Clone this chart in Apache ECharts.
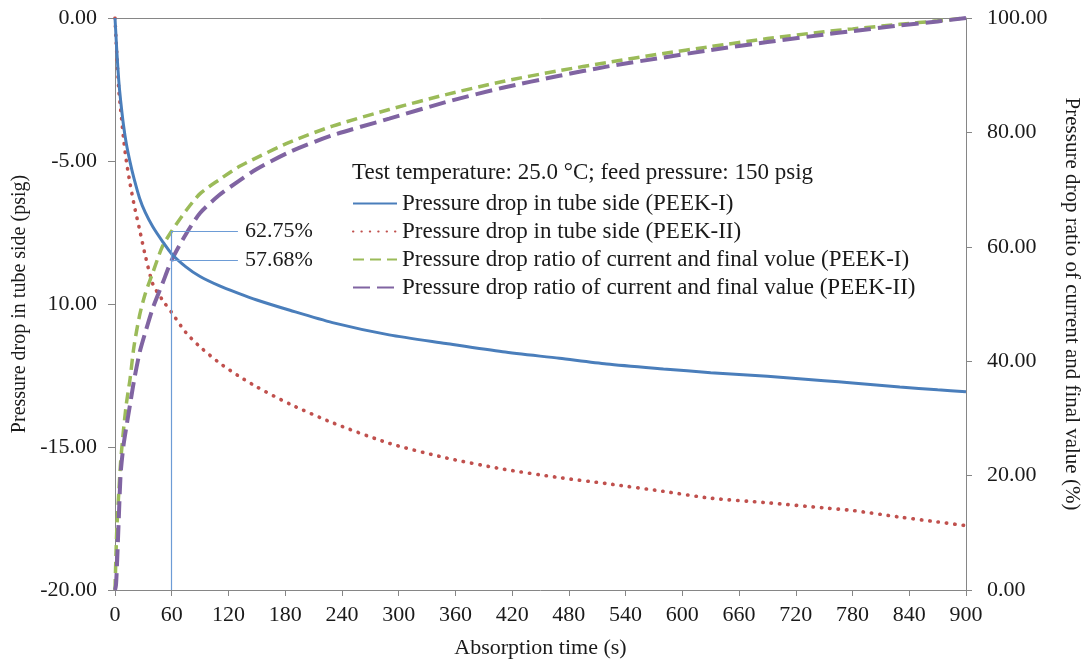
<!DOCTYPE html>
<html>
<head>
<meta charset="utf-8">
<script src="https://cdn.jsdelivr.net/npm/echarts@6/dist/echarts.min.js"></script>
<style>
  html, body { margin: 0; padding: 0; background: #fff; overflow: hidden; }
  #chart { width: 1081px; height: 661px; }
</style>
</head>
<body>
<div id="chart"></div>
<script>
// Sampling times (s)
const times = [0, 1, 2, 4, 6, 9, 12, 16, 20, 26, 32, 40, 50, 60, 75, 90, 110, 130, 150, 185,
  230, 290, 350, 410, 470, 520, 580, 630, 690, 750, 780, 830, 870, 900];

// Pressure drop in tube side (psig)
const dropPeek1 = [0, -0.6, -1.2, -2.2, -2.9, -3.75, -4.4, -5.05, -5.6, -6.3, -6.8, -7.3, -7.8, -8.25,
  -8.7, -9.04, -9.36, -9.62, -9.86, -10.22, -10.65, -11.08, -11.38, -11.67, -11.9, -12.1, -12.27,
  -12.4, -12.53, -12.68, -12.76, -12.9, -13.0, -13.07];
const dropPeek2 = [0, -0.7, -1.3, -2.5, -3.2, -4.2, -5.0, -5.8, -6.5, -7.4, -8.3, -9.3, -9.85, -10.3,
  -11.0, -11.5, -12.05, -12.5, -12.9, -13.5, -14.15, -14.87, -15.38, -15.77, -16.07, -16.28,
  -16.55, -16.79, -16.95, -17.13, -17.22, -17.45, -17.62, -17.75];

// Ratio of current to final pressure drop (%)
const ratioPeek1 = [0, 6, 11, 17, 22.5, 28, 32.5, 37, 42.5, 48, 51.8, 55.5, 60, 62.75, 66.3, 69.3,
  71.7, 73.9, 75.6, 78.3, 81.1, 84.0, 86.6, 88.9, 90.8, 92.2, 93.8, 95.0, 96.4, 97.6, 98.1, 98.9, 99.5, 100];
const ratioPeek2 = [0, 0.8, 4, 12.5, 20.4, 25.3, 28.5, 32.5, 36.5, 41.5, 45, 49.3, 53.5, 57.68, 62.2,
  65.9, 69.0, 71.4, 73.6, 76.6, 79.5, 82.4, 85.3, 87.8, 89.9, 91.5, 93.1, 94.4, 95.8, 97.1, 97.7,
  98.7, 99.4, 100];

// Marked ratios at 60 s
const markTime = 60;
const markLineEnd = 130;
const markRatios = [62.75, 57.68];

// Axis tick labels
const leftTickLabels = { '0': '0.00', '-5': '-5.00', '-10': '10.00', '-15': '-15.00', '-20': '-20.00' };

const seriesNames = [
  'Pressure drop in tube side (PEEK-I)',
  'Pressure drop in tube side (PEEK-II)',
  'Pressure drop ratio of current and final volue (PEEK-I)',
  'Pressure drop ratio of current and final value (PEEK-II)'
];

const FONT = "'Liberation Serif', 'Times New Roman', serif";
const AXIS_COLOR = '#868686';
const TEXT_COLOR = '#1a1a1a';
const TICK_SIZE = 22;
const LEGEND_SIZE = 23;

const pair = (vals) => times.map((t, i) => [t, vals[i]]);

const chart = echarts.init(document.getElementById('chart'), null, { renderer: 'canvas' });

const markData = [
  [{ coord: [markTime, 0] }, { coord: [markTime, markRatios[0]] }],
  ...markRatios.map(v => [
    { coord: [markTime, v] },
    { coord: [markLineEnd, v], label: { show: true, formatter: v.toFixed(2) + '%' } }
  ])
];

const SMOOTH = 0.25;

chart.setOption({
  animation: false,
  backgroundColor: '#fff',
  textStyle: { fontFamily: FONT, color: TEXT_COLOR },
  title: {
    text: 'Test temperature: 25.0 \u00B0C; feed pressure: 150 psig',
    left: 347, top: 156,
    textStyle: { fontFamily: FONT, fontSize: LEGEND_SIZE, fontWeight: 'normal', color: TEXT_COLOR }
  },
  legend: {
    orient: 'vertical',
    left: 347, top: 187,
    itemWidth: 44, itemHeight: 14, itemGap: 5,
    itemStyle: { opacity: 0 },
    textStyle: { fontFamily: FONT, fontSize: LEGEND_SIZE, color: TEXT_COLOR },
    data: seriesNames
  },
  grid: { left: 115, right: 115, top: 18, bottom: 71, containLabel: false, outerBoundsMode: 'none' },
  xAxis: [{
    type: 'value', min: 0, max: 900, interval: 60,
    position: 'bottom',
    name: 'Absorption time (s)', nameLocation: 'middle', nameGap: 47,
    nameTextStyle: { fontFamily: FONT, fontSize: 22, color: TEXT_COLOR },
    axisLine: { show: true, onZero: false, lineStyle: { color: AXIS_COLOR, width: 1 } },
    axisTick: { show: true, length: 6, lineStyle: { color: AXIS_COLOR } },
    axisLabel: { fontFamily: FONT, fontSize: TICK_SIZE, color: TEXT_COLOR, margin: 14 },
    splitLine: { show: false }
  }, {
    type: 'value', min: 0, max: 900, position: 'top',
    axisLine: { show: true, onZero: false, lineStyle: { color: AXIS_COLOR, width: 1 } },
    axisTick: { show: false }, axisLabel: { show: false }, splitLine: { show: false }
  }],
  yAxis: [{
    type: 'value', min: -20, max: 0, interval: 5, position: 'left',
    name: 'Pressure drop in tube side (psig)', nameLocation: 'middle', nameGap: 85, nameRotate: 90,
    nameTextStyle: { fontFamily: FONT, fontSize: 20, color: TEXT_COLOR },
    axisLine: { show: true, onZero: false, lineStyle: { color: AXIS_COLOR, width: 1 } },
    axisTick: { show: true, length: 7, lineStyle: { color: AXIS_COLOR } },
    axisLabel: {
      fontFamily: FONT, fontSize: TICK_SIZE, color: TEXT_COLOR, margin: 18,
      formatter: v => leftTickLabels[String(v)] ?? v.toFixed(2)
    },
    splitLine: { show: false }
  }, {
    type: 'value', min: 0, max: 100, interval: 20, position: 'right',
    name: 'Pressure drop ratio of current and final value (%)', nameLocation: 'middle',
    nameGap: 95, nameRotate: -90,
    nameTextStyle: { fontFamily: FONT, fontSize: 21, color: TEXT_COLOR },
    axisLine: { show: true, onZero: false, lineStyle: { color: AXIS_COLOR, width: 1 } },
    axisTick: { show: true, length: 6, lineStyle: { color: AXIS_COLOR } },
    axisLabel: { fontFamily: FONT, fontSize: TICK_SIZE, color: TEXT_COLOR, margin: 21, formatter: v => v.toFixed(2) },
    splitLine: { show: false }
  }],
  series: [{
    name: seriesNames[0], type: 'line', yAxisIndex: 0, data: pair(dropPeek1),
    symbol: 'none', smooth: SMOOTH, z: 4,
    itemStyle: { color: '#4a7ebb' },
    lineStyle: { color: '#4a7ebb', width: 3 }
  }, {
    name: seriesNames[1], type: 'line', yAxisIndex: 0, data: pair(dropPeek2),
    symbol: 'none', smooth: SMOOTH, z: 3,
    itemStyle: { color: '#c0504d' },
    lineStyle: { color: '#c0504d', width: 3.6, type: [0.4, 8], cap: 'round' }
  }, {
    name: seriesNames[2], type: 'line', yAxisIndex: 1, data: pair(ratioPeek1),
    symbol: 'none', smooth: SMOOTH, z: 3,
    itemStyle: { color: '#9bbb59' },
    lineStyle: { color: '#9bbb59', width: 3.5, type: [11, 6] },
    markLine: {
      silent: true, symbol: 'none', animation: false,
      lineStyle: { color: '#6d9cd6', width: 1.2, type: 'solid' },
      label: {
        show: false, position: 'end', distance: 7,
        fontFamily: FONT, fontSize: TICK_SIZE, color: TEXT_COLOR
      },
      emphasis: { disabled: true },
      data: markData
    }
  }, {
    name: seriesNames[3], type: 'line', yAxisIndex: 1, data: pair(ratioPeek2),
    symbol: 'none', smooth: SMOOTH, z: 3,
    itemStyle: { color: '#8064a2' },
    lineStyle: { color: '#8064a2', width: 4, type: [17, 7] }
  }]
});
</script>
</body>
</html>
